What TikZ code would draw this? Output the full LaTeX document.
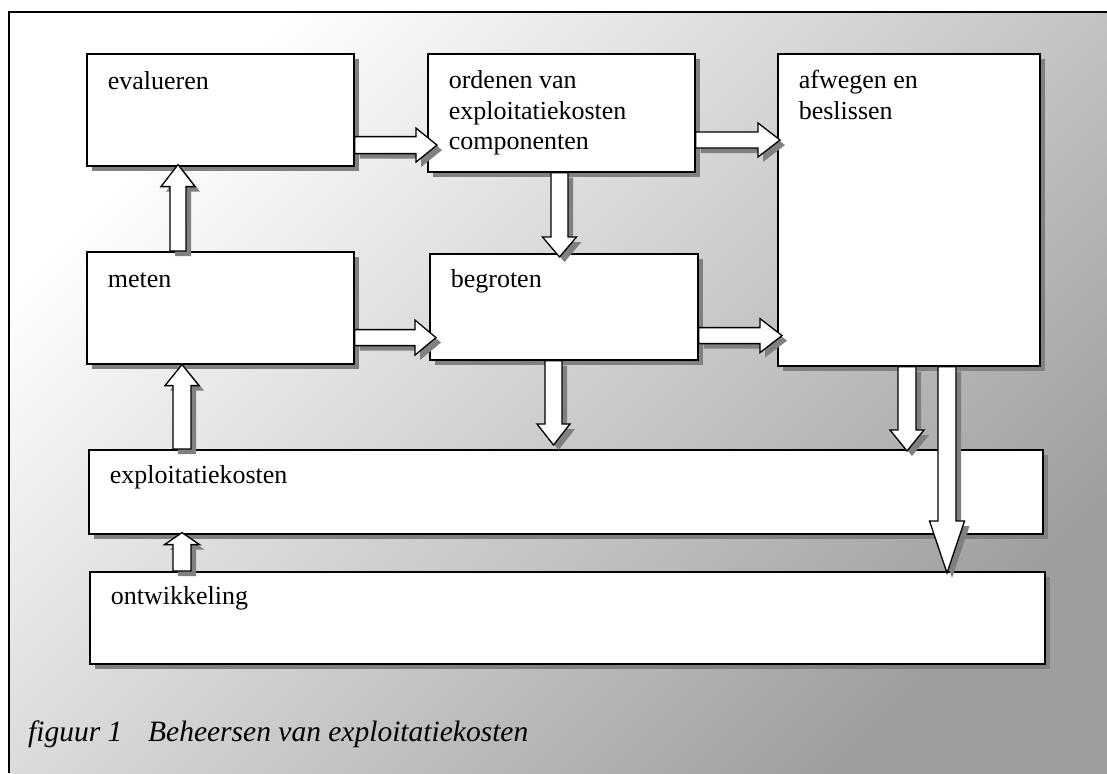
\documentclass[tikz,border=0pt]{standalone}
\usepackage{fontspec}
\setmainfont{Liberation Serif}
\usetikzlibrary{calc,shadows}
\definecolor{shadowgray}{RGB}{128,128,128}
\definecolor{bgend}{RGB}{158,158,158}
\tikzset{
  box/.style={draw=black, line width=1.6pt, fill=white, anchor=north west,
    inner sep=0pt, font=\fontsize{26}{30.5}\selectfont,
    drop shadow={shadow xshift=5pt, shadow yshift=-5pt, fill=shadowgray, opacity=1}},
  arrowline/.style={draw=black, line width=1.3pt, fill=white, line join=miter},
  arrowshadow/.style={fill=shadowgray, draw=none},
  framebg/.style={top color=white, bottom color=bgend, shading angle=45},
  frameline/.style={draw=black, line width=1.6pt},
  caption/.style={anchor=base west, font=\fontsize{29.5}{34}\selectfont\itshape, inner sep=0pt}
}
\newcommand\boxtext[2]{\hspace*{21pt}\parbox[t]{\dimexpr#1pt-21pt\relax}{#2}}
% block arrow: #1 start, #2 tip, #3 half shaft, #4 half head, #5 head length
\newcommand\barrow[5]{%
  \path[arrowshadow] let \p1=(#1), \p2=(#2), \n1={atan2(\y2-\y1,\x2-\x1)}, \n2={veclen(\x2-\x1,\y2-\y1)} in
    [shift={({\x1+5pt},{\y1-5pt})}, rotate=\n1]
    (0,#3) -- ({\n2-#5},#3) -- ({\n2-#5},#4) -- (\n2,0) -- ({\n2-#5},-#4) -- ({\n2-#5},-#3) -- (0,-#3) -- cycle;
  \path[arrowline] let \p1=(#1), \p2=(#2), \n1={atan2(\y2-\y1,\x2-\x1)}, \n2={veclen(\x2-\x1,\y2-\y1)} in
    [shift={(\x1,\y1)}, rotate=\n1]
    (0,#3) -- ({\n2-#5},#3) -- ({\n2-#5},#4) -- (\n2,0) -- ({\n2-#5},-#4) -- ({\n2-#5},-#3) -- (0,-#3) -- cycle;
}
\begin{document}
\begin{tikzpicture}[x=1pt, y=-1pt]
\useasboundingbox (0,0) rectangle (1107,773);
\fill[white] (0,0) rectangle (1107,773);
\shade[framebg] (9,12) rectangle (1107,773);
\draw[frameline] (9,773) -- (9,12) -- (1107,12);

% boxes
\node[box, text height=36pt, text depth=76pt] (eval) at (86,53) {\boxtext{267}{evalueren}};
\node[box, text height=35pt, text depth=83pt] (orden) at (427,53) {\boxtext{267}{ordenen van\\exploitatiekosten\\componenten}};
\node[box, text height=35pt, text depth=277pt] (afweg) at (777,53) {\boxtext{262}{afwegen en\\beslissen}};
\node[box, text height=36pt, text depth=76pt] (meten) at (86,251) {\boxtext{267}{meten}};
\node[box, text height=34pt, text depth=72pt] (begrot) at (429,253) {\boxtext{268}{begroten}};
\node[box, text height=34pt, text depth=50pt] (expl) at (88,449) {\boxtext{954}{exploitatiekosten}};
\node[box, text height=33pt, text depth=59pt] (ontw) at (89,571) {\boxtext{955}{ontwikkeling}};

% caption
\node[caption] (cap) at (28,741) {\makebox[120pt][l]{figuur 1}Beheersen van exploitatiekosten};

% connector end points
\coordinate (a1s) at ($(eval.south east)+(0,-21.5)$);
\coordinate (a1e) at ($(orden.west |- a1s)+(10,0)$);
\coordinate (a2s) at ($(orden.north east)+(0,87)$);
\coordinate (a2e) at ($(afweg.west |- a2s)+(3,0)$);
\coordinate (a3s) at ($(meten.south east)+(0,-27)$);
\coordinate (a3e) at ($(begrot.west |- a3s)+(7,0)$);
\coordinate (a4s) at ($(begrot.south east)+(0,-25)$);
\coordinate (a4e) at ($(afweg.west |- a4s)+(5,0)$);
\coordinate (a5s) at ($(meten.north west)+(92,0)$);
\coordinate (a5e) at ($(a5s |- eval.south)+(0,-2)$);
\coordinate (a6s) at ($(expl.north west)+(94,0)$);
\coordinate (a6e) at (a6s |- meten.south);
\coordinate (a7s) at ($(ontw.north west)+(93,0)$);
\coordinate (a7e) at ($(a7s |- expl.south)+(0,-2)$);
\coordinate (a8s) at ($(orden.south west)+(132.5,0)$);
\coordinate (a8e) at ($(a8s |- begrot.north)+(0,4)$);
\coordinate (a9s) at ($(begrot.south west)+(124.5,0)$);
\coordinate (a9e) at ($(a9s |- expl.north)+(0,-4)$);
\coordinate (a10s) at ($(afweg.south west)+(130,0)$);
\coordinate (a10e) at ($(a10s |- expl.north)+(0,2)$);
\coordinate (a11s) at ($(afweg.south west)+(170,0)$);
\coordinate (a11e) at ($(a11s |- ontw.north)+(0,2)$);

% block arrows
\barrow{a1s}{a1e}{8.5}{17}{21}
\barrow{a2s}{a2e}{8}{17}{22}
\barrow{a3s}{a3e}{8}{17.5}{21}
\barrow{a4s}{a4e}{8}{17}{22}
\barrow{a5s}{a5e}{8}{17}{22}
\barrow{a6s}{a6e}{9}{17}{21}
\barrow{a7s}{a7e}{9}{17.5}{12}
\barrow{a8s}{a8e}{8.5}{17}{20}
\barrow{a9s}{a9e}{8.5}{16.5}{21}
\barrow{a10s}{a10e}{9}{17}{21}
\barrow{a11s}{a11e}{9}{17.5}{52}
\end{tikzpicture}
\end{document}
